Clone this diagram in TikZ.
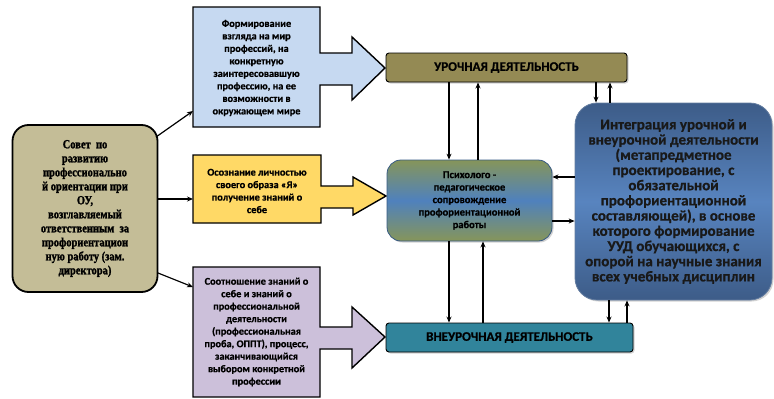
\documentclass[tikz,border=0pt]{standalone}
\usepackage{fontspec}
\usepackage{graphicx}
\setmainfont{Carlito}[BoldFeatures={FakeBold=0.7}]
\newfontfamily\serifb{Liberation Serif}[BoldFeatures={FakeBold=1.6}]
\usetikzlibrary{arrows.meta,shadows}
\definecolor{khaki}{HTML}{C4BD97}
\definecolor{lblue}{HTML}{C6D9F1}
\definecolor{lyell}{HTML}{FFD966}
\definecolor{lpurp}{HTML}{CCC0DA}
\definecolor{olivebx}{HTML}{948A54}
\definecolor{tealbx}{HTML}{31849B}
\definecolor{psyolive}{HTML}{86955A}
\definecolor{psyblue}{HTML}{4F81BD}
\definecolor{intdark}{HTML}{3D5C88}
\definecolor{intlight}{HTML}{5884BF}
\tikzset{
  arr/.style={draw=black, line width=1.2pt, -{Stealth[length=6pt,width=5pt]}},
  arrowbox/.style={draw=black, line width=1.4pt},
  txt/.style={align=center, font=\bfseries\fontsize{10.3}{12.5}\selectfont, text=black},
  bar/.style={draw=black, line width=0.9pt, rounded corners=3pt, align=center,
     font=\bfseries\fontsize{13}{15}\selectfont, drop shadow={opacity=0.35, shadow xshift=1.5pt, shadow yshift=-1.5pt}},
}
\begin{document}
\begin{tikzpicture}[x=1pt,y=-1pt]
\useasboundingbox (0,0) rectangle (774,399);
% left council box
\node[draw=black, line width=1.8pt, rounded corners=16pt, fill=khaki,
  minimum width=145pt, minimum height=167pt, inner sep=0pt,
  font=\serifb\bfseries\fontsize{12.5}{14}\selectfont] (council) at (85,208.5)
  {\scalebox{0.84}[1]{\begin{tabular}{@{}c@{}}Совет \ по\\ развитию\\ профессионально\\ й ориентации при\\ ОУ,\\ возглавляемый\\ ответственным \ за\\ профориентацион\\ ную работу (зам.\\ директора)\end{tabular}}};
% arrow boxes
\filldraw[arrowbox, fill=lblue] (193,7) -- (320,7) -- (320,53) -- (352,53) -- (352,37) -- (385,68) -- (352,100) -- (352,85) -- (320,85) -- (320,127) -- (193,127) -- cycle;
\node[txt] (blue) at (256.5,68) {Формирование\\ взгляда на мир\\ профессий, на\\ конкретную\\ заинтересовавшую\\ профессию, на ее\\ возможности в\\ окружающем мире};
\filldraw[arrowbox, fill=lyell] (193,155) -- (321,155) -- (321,186) -- (353,186) -- (353,177) -- (386,196) -- (353,215) -- (353,208) -- (321,208) -- (321,223) -- (193,223) -- cycle;
\node[txt] (yell) at (257,191) {Осознание личностью\\ своего образа «Я»\\ получение знаний о\\ себе};
\filldraw[arrowbox, fill=lpurp] (193,267) -- (320,267) -- (320,327) -- (352,327) -- (352,307) -- (385,337) -- (352,368) -- (352,349) -- (320,349) -- (320,397) -- (193,397) -- cycle;
\node[txt] (purp) at (256.5,332) {Соотношение знаний о\\ себе и знаний о\\ профессиональной\\ деятельности\\ (профессиональная\\ проба, ОППТ), процесс,\\ заканчивающийся\\ выбором конкретной\\ профессии};
% bars
\node[bar, fill=olivebx, minimum width=241pt, minimum height=29pt] (uroch) at (506.5,67.5) {УРОЧНАЯ ДЕЯТЕЛЬНОСТЬ};
\node[bar, fill=tealbx, minimum width=247pt, minimum height=29pt] (vneuroch) at (509.5,337.5) {ВНЕУРОЧНАЯ ДЕЯТЕЛЬНОСТЬ};
% psych box
\node[draw=psyblue!70!black, line width=0.8pt, rounded corners=14pt, top color=psyolive, bottom color=psyolive, middle color=psyblue,
  minimum width=165pt, minimum height=81pt, align=center, font=\bfseries\fontsize{10.5}{12.5}\selectfont,
  drop shadow={opacity=0.35, shadow xshift=1.5pt, shadow yshift=-1.5pt}] (psych) at (469.5,200.5)
  {Психолого -\\ педагогическое\\ сопровождение\\ профориентационной\\ работы};
% integration box
\node[draw=intdark!80!white, line width=0.8pt, rounded corners=22pt, top color=intdark, bottom color=intdark, middle color=intlight,
  minimum width=197pt, minimum height=197pt, align=center, font=\bfseries\fontsize{15}{15.2}\selectfont, text=black!90,
  drop shadow={opacity=0.35, shadow xshift=1.5pt, shadow yshift=-1.5pt}] (integ) at (673.5,201.5)
  {Интеграция урочной и\\ внеурочной деятельности\\ (метапредметное\\ проектирование, с\\ обязательной\\ профориентационной\\ составляющей), в основе\\ которого формирование\\ УУД обучающихся, с\\ опорой на научные знания\\ всех учебных дисциплин};
% coordinates
\coordinate (xa) at (449,0);
\coordinate (xb) at (478,0);
\coordinate (xc) at (483,0);
\coordinate (xd) at (596,0);
\coordinate (xe) at (610,0);
\coordinate (xf) at (609,0);
\coordinate (xg) at (627,0);
\coordinate (ya) at (0,177);
\coordinate (yb) at (0,221);
\coordinate (c1) at (156,137);
\coordinate (c2) at (158,199);
\coordinate (c3) at (158,273);
\coordinate (b1) at (193,111);
\coordinate (b2) at (193,199);
\coordinate (b3) at (193,287);
% council arrows
\draw[arr] (c1) -- (b1);
\draw[arr] (c2) -- (b2);
\draw[arr] (c3) -- (b3);
% vertical arrows
\draw[arr] (uroch.south -| xa) -- (psych.north -| xa);
\draw[arr] (psych.north -| xb) -- (uroch.south -| xb);
\draw[arr] (psych.south -| xa) -- (vneuroch.north -| xa);
\draw[arr] (vneuroch.north -| xc) -- (psych.south -| xc);
\draw[arr] (uroch.south -| xd) -- (integ.north -| xd);
\draw[arr] (integ.north -| xe) -- (uroch.south -| xe);
\draw[arr] (integ.south -| xf) -- (vneuroch.north -| xf);
\draw[arr] (vneuroch.north -| xg) -- (integ.south -| xg);
% horizontal arrows
\draw[arr] (integ.west |- ya) -- (psych.east |- ya);
\draw[arr] (psych.east |- yb) -- (integ.west |- yb);
\end{tikzpicture}
\end{document}
